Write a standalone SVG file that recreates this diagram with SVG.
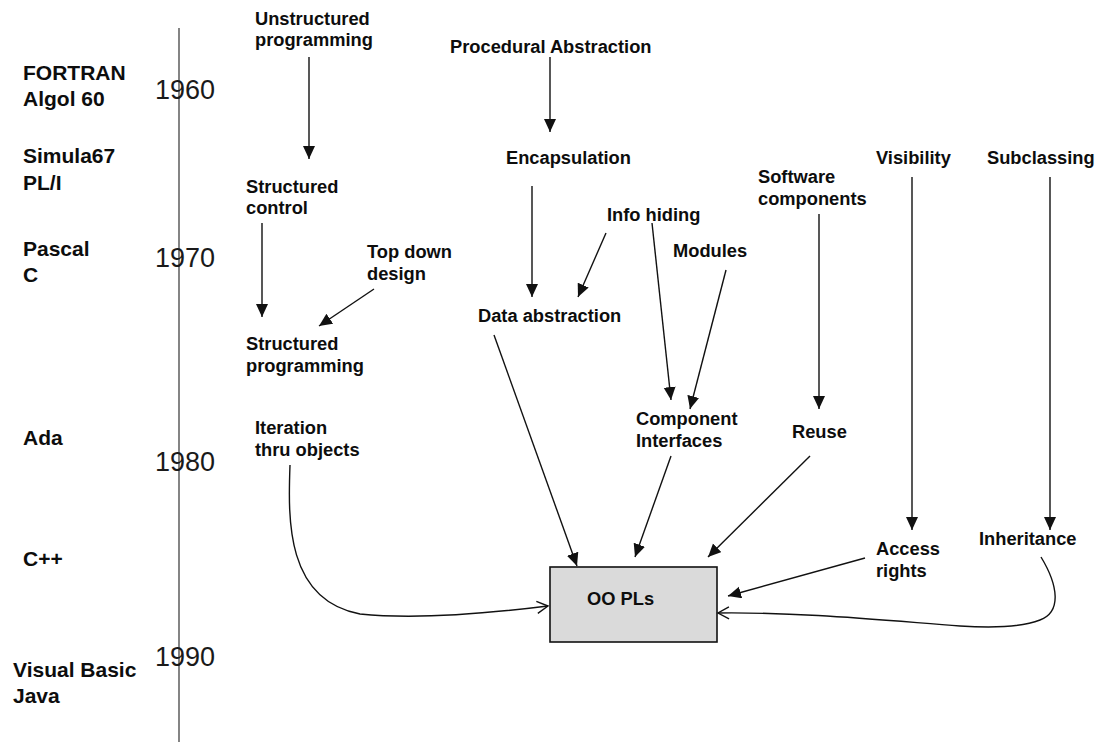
<svg xmlns="http://www.w3.org/2000/svg" width="1106" height="742" viewBox="0 0 1106 742">
  <style>
    .lbl { font-family: "Liberation Sans", Arial, sans-serif; font-weight: bold; font-size: 18.3px; fill: #0d0d0d; }
    .lang { font-family: "Liberation Sans", Arial, sans-serif; font-weight: bold; font-size: 21px; fill: #0d0d0d; }
    .year { font-family: "Liberation Sans", Arial, sans-serif; font-size: 27px; fill: #1a1a1a; }
    .edge { fill: none; stroke: #111; stroke-width: 1.4; }
    .solid { marker-end: url(#tri); }
    .open { marker-end: url(#vee); }
  </style>
  <defs>
    <marker id="tri" markerUnits="userSpaceOnUse" markerWidth="15" markerHeight="13" refX="13" refY="6" orient="auto">
      <path d="M0,0 L13,6 L0,12 Z" fill="#111"/>
    </marker>
    <marker id="vee" markerUnits="userSpaceOnUse" markerWidth="14" markerHeight="14" refX="12" refY="7" orient="auto">
      <path d="M1,1 L12,7 L1,13" fill="none" stroke="#111" stroke-width="1.4"/>
    </marker>
  </defs>
  <rect width="1106" height="742" fill="#fff"/>

  <!-- timeline axis -->
  <g id="timeline">
    <line x1="179" y1="28" x2="179" y2="742" stroke="#333" stroke-width="1.2"/>
    <text class="year" x="155" y="99">1960</text>
    <text class="year" x="155" y="267">1970</text>
    <text class="year" x="155" y="471">1980</text>
    <text class="year" x="155" y="666">1990</text>
  </g>

  <!-- languages by era -->
  <g id="languages">
    <text class="lang" x="23" y="80">FORTRAN</text>
    <text class="lang" x="23" y="106">Algol 60</text>
    <text class="lang" x="23" y="163">Simula67</text>
    <text class="lang" x="23" y="190">PL/I</text>
    <text class="lang" x="23" y="256">Pascal</text>
    <text class="lang" x="23" y="282">C</text>
    <text class="lang" x="23" y="445">Ada</text>
    <text class="lang" x="23" y="566">C++</text>
    <text class="lang" x="13" y="677">Visual Basic</text>
    <text class="lang" x="13" y="703">Java</text>
  </g>

  <!-- concept nodes -->
  <g id="unstructured"><text class="lbl" x="255" y="25">Unstructured</text><text class="lbl" x="255" y="46">programming</text></g>
  <g id="procedural"><text class="lbl" x="450" y="52.5">Procedural Abstraction</text></g>
  <g id="encapsulation"><text class="lbl" x="506" y="164">Encapsulation</text></g>
  <g id="visibility"><text class="lbl" x="876" y="164">Visibility</text></g>
  <g id="subclassing"><text class="lbl" x="987" y="164">Subclassing</text></g>
  <g id="software-components"><text class="lbl" x="758" y="183">Software</text><text class="lbl" x="758" y="204.5">components</text></g>
  <g id="structured-control"><text class="lbl" x="246" y="193">Structured</text><text class="lbl" x="246" y="214">control</text></g>
  <g id="info-hiding"><text class="lbl" x="607" y="220.5">Info hiding</text></g>
  <g id="modules"><text class="lbl" x="673" y="257">Modules</text></g>
  <g id="top-down"><text class="lbl" x="367" y="258">Top down</text><text class="lbl" x="367" y="279.5">design</text></g>
  <g id="data-abstraction"><text class="lbl" x="478" y="321.5">Data abstraction</text></g>
  <g id="structured-programming"><text class="lbl" x="246" y="350">Structured</text><text class="lbl" x="246" y="371.5">programming</text></g>
  <g id="iteration"><text class="lbl" x="255" y="434">Iteration</text><text class="lbl" x="255" y="456">thru objects</text></g>
  <g id="component-interfaces"><text class="lbl" x="636" y="425">Component</text><text class="lbl" x="636" y="447">Interfaces</text></g>
  <g id="reuse"><text class="lbl" x="792" y="437.5">Reuse</text></g>
  <g id="access-rights"><text class="lbl" x="876" y="555">Access</text><text class="lbl" x="876" y="577">rights</text></g>
  <g id="inheritance"><text class="lbl" x="979" y="545">Inheritance</text></g>
  <g id="oo-pls">
    <rect x="550" y="567" width="167" height="75" fill="#dadada" stroke="#111" stroke-width="1.6"/>
    <text class="lbl" x="587" y="605">OO PLs</text>
  </g>

  <!-- connectors -->
  <g id="connectors">
    <line class="edge solid" x1="309" y1="57" x2="309" y2="159"/>
    <line class="edge solid" x1="550" y1="57" x2="550" y2="132"/>
    <line class="edge solid" x1="262" y1="223" x2="262" y2="317"/>
    <line class="edge solid" x1="374" y1="289" x2="319" y2="326"/>
    <line class="edge solid" x1="532" y1="186" x2="532" y2="297"/>
    <line class="edge solid" x1="606" y1="233" x2="578" y2="297"/>
    <line class="edge solid" x1="652" y1="223" x2="671" y2="400"/>
    <line class="edge solid" x1="726" y1="270" x2="690" y2="409"/>
    <line class="edge solid" x1="819" y1="214" x2="819" y2="409"/>
    <line class="edge solid" x1="912" y1="177" x2="912" y2="530"/>
    <line class="edge solid" x1="1050" y1="177" x2="1050" y2="530"/>
    <line class="edge solid" x1="494" y1="335" x2="577" y2="566"/>
    <line class="edge solid" x1="671" y1="456" x2="635" y2="557"/>
    <line class="edge solid" x1="810" y1="456" x2="708" y2="557"/>
    <line class="edge solid" x1="865" y1="558" x2="728" y2="596"/>
    <path class="edge open" d="M290,465 C288,520 286,600 360,614 C420,620 500,612 548,606"/>
    <path class="edge open" d="M1041,557 C1058,585 1062,612 1040,620 C1020,628 990,628 960,626 C880,620 800,612 718,613"/>
  </g>
</svg>
